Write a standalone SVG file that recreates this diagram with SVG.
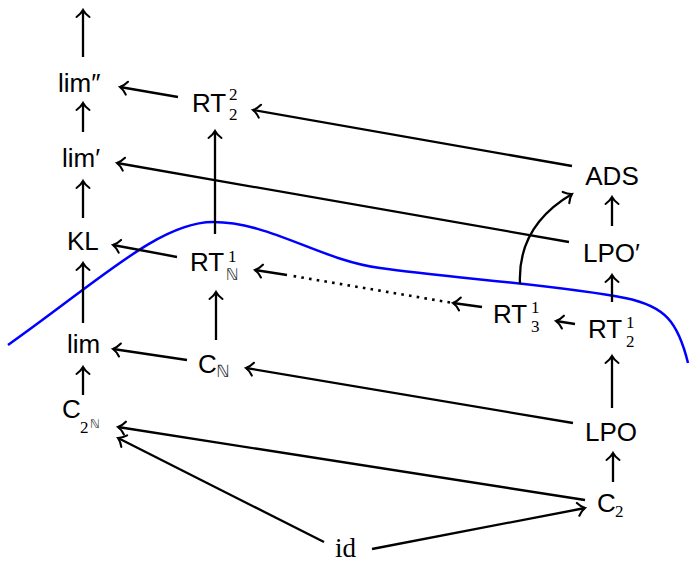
<svg xmlns="http://www.w3.org/2000/svg" width="690" height="563" viewBox="0 0 690 563">
  <style>
    .lbl { font-family: "Liberation Sans", "DejaVu Sans", sans-serif; font-size: 26px; fill: #000; }
    .idx { font-family: "Liberation Serif", "DejaVu Serif", serif; font-size: 17px; fill: #000; }
    .bb  { font-family: "DejaVu Sans", "Noto Sans", sans-serif; font-size: 16px; fill: #333; }
    .rm  { font-family: "Liberation Serif", "DejaVu Serif", serif; font-size: 27px; fill: #000; }
    .arr { fill: none; stroke: #000; stroke-width: 2.3; marker-end: url(#tip); }
    .dots { fill: none; stroke: #000; stroke-width: 2.6; stroke-dasharray: 2.6 5.2; }
    .cut { fill: none; stroke: #0000ff; stroke-width: 2.5; }
  </style>
  <defs>
    <marker id="tip" markerUnits="userSpaceOnUse" orient="auto" refX="0" refY="0" markerWidth="20" markerHeight="20" style="overflow:visible">
      <path d="M-7,-6.5 C-4.5,-3 -1.5,-0.8 0,0 C-1.5,0.8 -4.5,3 -7,6.5" fill="none" stroke="#000" stroke-width="2.1" stroke-linecap="round"/>
    </marker>
  </defs>

  <!-- separating curve -->
  <path class="cut" d="M8,345 C100,280 160,222 213,222 C270,222 320,260 380,268 C450,278 560,285 625,298 C665,306 678,322 688,363"/>

  <!-- connectors -->
  <g id="connectors">
    <path class="arr" d="M83,57 L83,10"/>
    <path class="arr" d="M83,132 L83,103"/>
    <path class="arr" d="M83,218 L83,181"/>
    <path class="arr" d="M83,323 L83,263"/>
    <path class="arr" d="M83,395 L83,367"/>
    <path class="arr" d="M178,97 L120,87"/>
    <path class="arr" d="M215,234 L215,131"/>
    <path class="arr" d="M572,166 L253,110"/>
    <path class="arr" d="M569,242 L117,163"/>
    <path class="arr" d="M612,226 L612,197"/>
    <path class="arr" d="M612,302 L612,275"/>
    <path class="arr" d="M612,408 L612,356"/>
    <path class="arr" d="M613,482 L613,453"/>
    <path class="arr" d="M575,324 L556,321"/>
    <path class="arr" d="M482,307 L453,303"/>
    <path class="dots" d="M450,302.5 L290,275.5"/>
    <path class="arr" d="M287,275 L255,270"/>
    <path class="arr" d="M520,284 C518,242 538,214 572,194"/>
    <path class="arr" d="M177,257 L113,245"/>
    <path class="arr" d="M216,340 L216,292"/>
    <path class="arr" d="M187,360 L113,349"/>
    <path class="arr" d="M573,423 L246,368"/>
    <path class="arr" d="M585,500 L118,427"/>
    <path class="arr" d="M324,542 L118,438"/>
    <path class="arr" d="M372,549 L585,508"/>
  </g>

  <!-- nodes -->
  <g id="lim2"><text class="lbl" x="58" y="92">lim″</text></g>
  <g id="lim1"><text class="lbl" x="62" y="167">lim′</text></g>
  <g id="KL"><text class="lbl" x="67" y="250">KL</text></g>
  <g id="lim"><text class="lbl" x="67" y="353">lim</text></g>
  <g id="C2N">
    <text class="lbl" x="62" y="418">C</text>
    <text class="idx" x="80" y="433">2</text>
    <text class="bb" x="90" y="428" style="font-size:12px">ℕ</text>
  </g>
  <g id="RT22">
    <text class="lbl" x="192" y="112">RT</text>
    <text class="idx" x="229" y="100">2</text>
    <text class="idx" x="229" y="120">2</text>
  </g>
  <g id="RTN1">
    <text class="lbl" x="190" y="271">RT</text>
    <text class="idx" x="228" y="262">1</text>
    <text class="bb" x="226" y="280">ℕ</text>
  </g>
  <g id="CN">
    <text class="lbl" x="198" y="373">C</text>
    <text class="bb" x="216" y="377" style="font-size:17px">ℕ</text>
  </g>
  <g id="ADS"><text class="lbl" x="612" y="185" text-anchor="middle">ADS</text></g>
  <g id="LPO1"><text class="lbl" x="583" y="262">LPO′</text></g>
  <g id="RT21">
    <text class="lbl" x="588" y="338">RT</text>
    <text class="idx" x="626" y="328">1</text>
    <text class="idx" x="626" y="347">2</text>
  </g>
  <g id="RT31">
    <text class="lbl" x="493" y="323">RT</text>
    <text class="idx" x="531" y="313">1</text>
    <text class="idx" x="531" y="332">3</text>
  </g>
  <g id="LPO"><text class="lbl" x="585" y="441">LPO</text></g>
  <g id="C2">
    <text class="lbl" x="597" y="512">C</text>
    <text class="idx" x="615" y="517">2</text>
  </g>
  <g id="id"><text class="rm" x="335" y="557">id</text></g>
</svg>
